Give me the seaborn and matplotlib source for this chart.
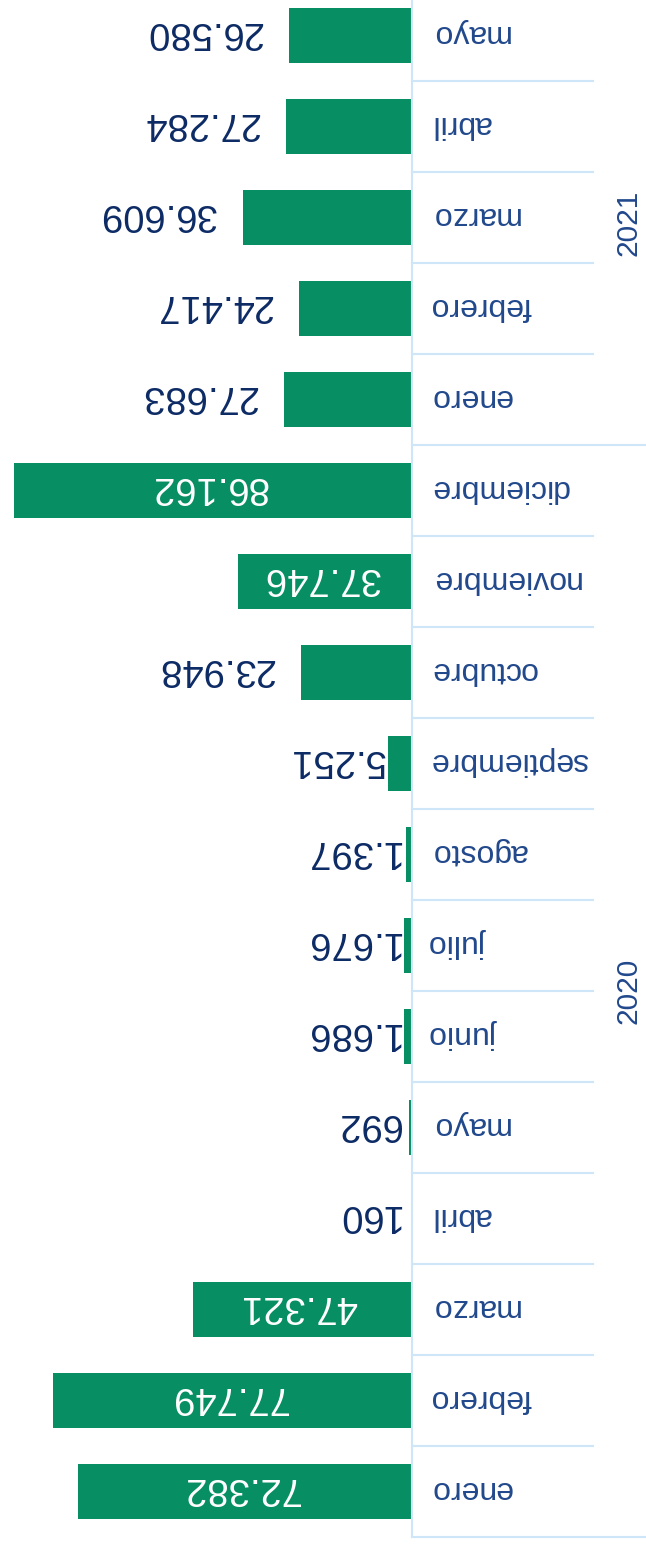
import pandas as pd
import matplotlib.pyplot as plt
import seaborn as sns

# Monthly values, chronological (enero 2020 -> mayo 2021)
months = ['enero', 'febrero', 'marzo', 'abril', 'mayo', 'junio', 'julio', 'agosto',
          'septiembre', 'octubre', 'noviembre', 'diciembre',
          'enero', 'febrero', 'marzo', 'abril', 'mayo']
years = ['2020'] * 12 + ['2021'] * 5
values = [72382, 77749, 47321, 160, 692, 1686, 1676, 1397,
          5251, 23948, 37746, 86162,
          27683, 24417, 36609, 27284, 26580]
value_labels = ['72.382', '77.749', '47.321', '160', '692', '1.686', '1.676', '1.397',
                '5.251', '23.948', '37.746', '86.162',
                '27.683', '24.417', '36.609', '27.284', '26.580']

df = pd.DataFrame({'month': months, 'year': years, 'value': values, 'label': value_labels})
df['key'] = [f'{y}-{i}' for i, y in enumerate(df['year'])]
# the picture is drawn turned: latest month on top
df = df.iloc[::-1].reset_index(drop=True)

green = '#078f63'
navy = '#0c2a64'
label_blue = '#21488b'
line_blue = '#cfe5f8'

plt.rcParams['font.family'] = ['Liberation Sans', 'DejaVu Sans']

fig = plt.figure(figsize=(6.46, 15.47), dpi=100)
ax = fig.add_axes([0, 10 / 1547, 412 / 646, 1537 / 1547])

sns.barplot(data=df, y='key', x='value', order=df['key'], orient='h',
            color=green, width=0.6, saturation=1, ax=ax)

ax.set_xlim(89200, 0)
ax.set_ylim(len(df) - 0.5, -0.39)
ax.set_xticks([])
ax.set_yticks([])
ax.set_xlabel('')
ax.set_ylabel('')
for side in ['top', 'left', 'bottom']:
    ax.spines[side].set_visible(False)
ax.spines['right'].set_color(line_blue)
ax.spines['right'].set_linewidth(1.5)

tr = ax.get_yaxis_transform()

# value labels (upside down)
for i, row in df.iterrows():
    if row['value'] >= 37000:
        ax.annotate(row['label'], xy=(row['value'] / 2, i), xytext=(-4, 3),
                    textcoords='offset pixels', rotation=180, ha='center', va='center',
                    color='white', fontsize=27.5)
    else:
        ax.annotate(row['label'], xy=(max(row['value'], 2000), i),
                    xytext=(-27 if row['value'] > 10000 else -3, 3), textcoords='offset pixels',
                    rotation=180, ha='right', va='center', color=navy, fontsize=27.5,
                    annotation_clip=False)
    # month labels
    ax.annotate(row['month'], xy=(1, i), xycoords=tr, xytext=(18, 2), textcoords='offset pixels',
                rotation=180, ha='left', va='center', color=label_blue, fontsize=23,
                annotation_clip=False)

# row separators
n = len(df)
for k in range(n):
    y = k + 0.5
    boundary = (k == n - 1) or (df.loc[k, 'year'] != df.loc[k + 1, 'year'])
    x_end = 646 / 412 if boundary else 593 / 412
    ax.plot([1, x_end], [y, y], color=line_blue, lw=1.5, transform=tr, clip_on=False)

# year group labels
for yr in ['2021', '2020']:
    idx = df.index[df['year'] == yr]
    top = max(idx.min() - 0.5, -0.39)
    mid = (top + idx.max() + 0.5) / 2
    ax.text(628 / 412, mid, yr, transform=tr, rotation=90, ha='center', va='center',
            color=label_blue, fontsize=21.5)

fig.savefig('out.png', dpi=100)
